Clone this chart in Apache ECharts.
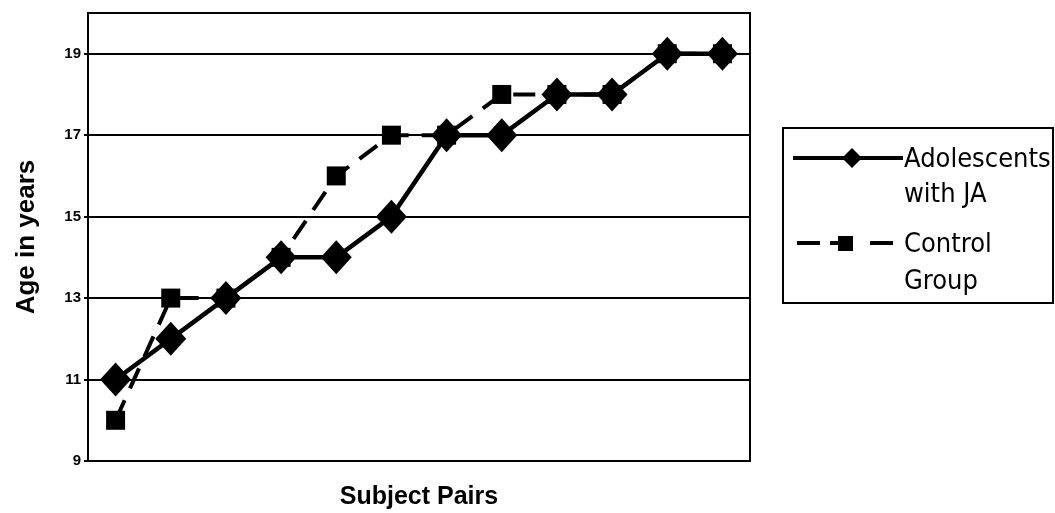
<!DOCTYPE html>
<html>
<head>
<meta charset="utf-8">
<script src="https://cdn.jsdelivr.net/npm/echarts@6/dist/echarts.min.js"></script>
<style>html,body{margin:0;padding:0;background:#fff}#c{width:1055px;height:513px}</style>
</head>
<body>
<div id="c"></div>
<script>
const categories = ['1','2','3','4','5','6','7','8','9','10','11','12'];
const adolescents = [11, 12, 13, 14, 14, 15, 17, 17, 18, 18, 19, 19];
const control = [10, 13, 13, 14, 16, 17, 17, 18, 18, 18, 19, 19];
const seriesNames = ['Adolescents with JA', 'Control Group'];
const yTicks = [9, 11, 13, 15, 17, 19];

const chart = echarts.init(document.getElementById('c'));
const legendFont = '"DejaVu Sans Condensed", "DejaVu Sans", sans-serif';
chart.setOption({
  animation: false,
  backgroundColor: '#fff',
  grid: { left: 88, right: 305, top: 13, bottom: 52, outerBoundsMode: 'none', containLabel: false,
    show: true, borderColor: '#000', borderWidth: 2, backgroundColor: 'transparent' },
  xAxis: {
    type: 'category', data: categories, boundaryGap: true,
    axisLine: { lineStyle: { color: '#000', width: 2 } },
    axisTick: { show: false }, axisLabel: { show: false },
    name: 'Subject Pairs', nameLocation: 'middle', nameGap: 24,
    nameTextStyle: { fontFamily: '"Liberation Sans", Arial, sans-serif', fontSize: 25, fontWeight: 'bold', color: '#000', verticalAlign: 'top' }
  },
  yAxis: {
    type: 'value', min: 9, max: 20, interval: 2,
    axisLine: { show: true, lineStyle: { color: '#000', width: 2 } },
    axisTick: { show: true, length: 4, lineStyle: { color: '#000', width: 2 } },
    axisLabel: { showMaxLabel: false, color: '#000', fontWeight: 'bold', fontSize: 15, fontFamily: '"Liberation Sans", Arial, sans-serif', margin: 7,
      formatter: v => yTicks.indexOf(v) >= 0 ? String(v) : '' },
    splitLine: { show: true, lineStyle: { color: '#000', width: 2 } },
    name: 'Age in years', nameLocation: 'middle', nameGap: 48, nameRotate: 90,
    nameTextStyle: { fontFamily: '"Liberation Sans", Arial, sans-serif', fontSize: 26, fontWeight: 'bold', color: '#000' }
  },
  series: [
    { name: seriesNames[1], type: 'line', data: control, z: 2,
      symbol: 'rect', symbolSize: 19,
      lineStyle: { color: '#000', width: 4, type: [22, 13] },
      itemStyle: { color: '#000' } },
    { name: seriesNames[0], type: 'line', data: adolescents, z: 3,
      symbol: 'diamond', symbolSize: [31, 34],
      lineStyle: { color: '#000', width: 4.5 },
      itemStyle: { color: '#000' } }
  ],
  graphic: [
    { type: 'rect', shape: { x: 783, y: 128, width: 270, height: 175 }, style: { fill: '#fff', stroke: '#000', lineWidth: 2 } },
    { type: 'line', shape: { x1: 793, y1: 158, x2: 903, y2: 158 }, style: { stroke: '#000', lineWidth: 4 } },
    { type: 'polygon', shape: { points: [[852, 148], [862, 158], [852, 168], [842, 158]] }, style: { fill: '#000' } },
    { type: 'text', left: 904, top: 142, style: { text: 'Adolescents\nwith JA', font: '27px ' + legendFont, fill: '#000', lineHeight: 35 } },
    { type: 'line', shape: { x1: 797, y1: 243, x2: 820, y2: 243 }, style: { stroke: '#000', lineWidth: 4 } },
    { type: 'line', shape: { x1: 830, y1: 243, x2: 840, y2: 243 }, style: { stroke: '#000', lineWidth: 4 } },
    { type: 'rect', shape: { x: 838, y: 236, width: 15, height: 15 }, style: { fill: '#000' } },
    { type: 'line', shape: { x1: 870, y1: 243, x2: 893, y2: 243 }, style: { stroke: '#000', lineWidth: 4 } },
    { type: 'text', left: 904, top: 226, style: { text: 'Control\nGroup', font: '27px ' + legendFont, fill: '#000', lineHeight: 37 } }
  ]
});
</script>
</body>
</html>
